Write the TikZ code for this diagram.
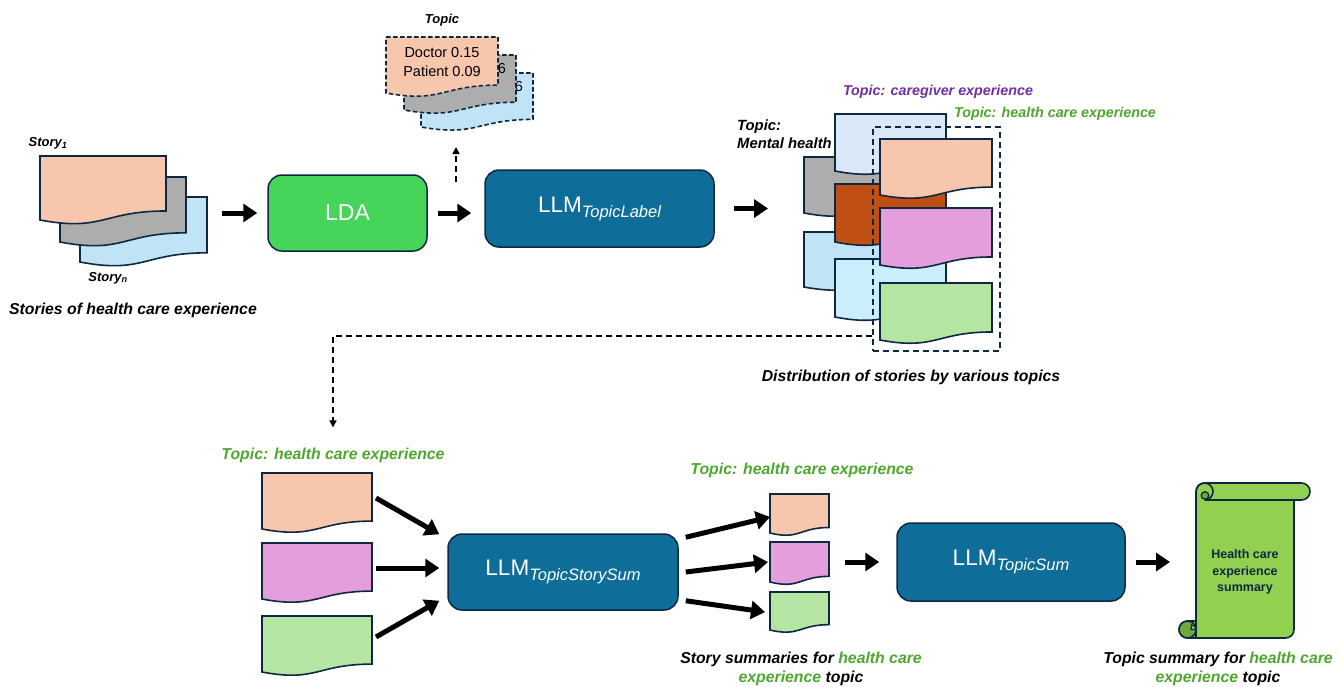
\documentclass[tikz,border=0pt]{standalone}
\usepackage{fontspec}
\setmainfont{Liberation Sans}
\usetikzlibrary{arrows.meta,calc}
\definecolor{navy}{HTML}{0E2841}
\definecolor{peach}{HTML}{F6C6AD}
\definecolor{grayd}{HTML}{ADADAD}
\definecolor{storyblue}{HTML}{C0E4F5}
\definecolor{ldagreen}{HTML}{47D45A}
\definecolor{llmblue}{HTML}{0F6E99}
\definecolor{brownd}{HTML}{C04F15}
\definecolor{pinkd}{HTML}{E59EDD}
\definecolor{docgreen}{HTML}{B4E5A2}
\definecolor{lbA}{HTML}{DAE9F8}
\definecolor{lbB}{HTML}{C0E4F5}
\definecolor{lbC}{HTML}{CAEEFB}
\definecolor{purpled}{HTML}{7030A0}
\definecolor{tgreen}{HTML}{4EA72E}
\definecolor{scrollg}{HTML}{92D050}
\definecolor{scrolldk}{HTML}{6FA83C}
\newcommand\docsh[5]{\draw[#1] (#2,#3) -- ({#2+#4},#3) -- ({#2+#4},{#3+0.859*#5}) .. controls ({#2+0.5*#4},{#3+0.859*#5}) and ({#2+0.5*#4},{#3+1.185*#5}) .. (#2,{#3+#5}) -- cycle;}
\newcommand\llmtxt[1]{{\fontsize{22.5}{26}\selectfont LLM}{\fontsize{16.5}{19}\selectfont\itshape\raisebox{-5pt}{#1}}}
\begin{document}
\begin{tikzpicture}[x=1pt,y=-1pt,
  doc/.style={draw=navy,line width=1.6pt},
  ddoc/.style={draw=navy,line width=1.6pt,dash pattern=on 4.5pt off 2.5pt},
  blk/.style={line width=5pt,-{Triangle[length=14pt,width=18pt]}},
  dsh/.style={line width=1.5pt,dash pattern=on 6pt off 4pt,-{Triangle[length=7pt,width=7pt]}},
  box/.style={draw=navy,line width=1.5pt,rounded corners=14pt,text=white,inner sep=0pt},
  captxt/.style={font=\fontsize{15.8}{18.5}\selectfont\bfseries\itshape,inner sep=0pt},
  lbl/.style={font=\fontsize{13}{17}\selectfont\bfseries\itshape,inner sep=0pt},
  tlbl/.style={font=\fontsize{14.3}{17}\selectfont\bfseries\itshape,inner sep=0pt},
  reg/.style={font=\fontsize{14.5}{19}\selectfont,inner sep=0pt}]
\useasboundingbox[fill=white] (0,0) rectangle (1341,686);

% ---- stories stack
\docsh{doc,fill=storyblue}{80}{197}{127}{65}
\docsh{doc,fill=grayd}{60}{177}{126}{65}
\docsh{doc,fill=peach}{40}{156}{126}{64}
\coordinate (stkR) at (207,213);
\node[lbl] (s1) at (48,143) {Story\textsubscript{1}};
\node[lbl] (sn) at (108,278) {Story\textsubscript{n}};
\node[captxt] (cap1) at (133,310) {Stories of health care experience};

% ---- boxes top
\node[box,fill=ldagreen,minimum width=159pt,minimum height=76pt] (LDA) at (347.5,213) {\fontsize{23}{27}\selectfont LDA};
\node[box,fill=llmblue,minimum width=229pt,minimum height=77pt] (LLM1) at (599.5,208.5) {\llmtxt{TopicLabel}};

% ---- topic stack
\docsh{ddoc,fill=storyblue}{421}{73}{112}{54}
\node[reg] (b6) at (519,87) {6};
\node[reg] (bd) at (478,106) {...};
\docsh{ddoc,fill=grayd}{404}{55}{112}{55}
\node[reg] (g6) at (502,69) {6};
\node[reg] (gd) at (460,88) {...};
\docsh{ddoc,fill=peach}{386}{37}{112}{56}
\node[reg,align=center] (dp) at (442,62) {Doctor 0.15\\Patient 0.09};
\node[lbl] (topic) at (442,20) {Topic};
\coordinate (tpb) at (456,130);
\coordinate (upS) at (456,182);

% ---- distribution
\docsh{doc,fill=grayd}{804}{157}{111}{56}
\docsh{doc,fill=lbA}{835}{114}{111}{57}
\docsh{doc,fill=lbB}{804}{232}{111}{55}
\docsh{doc,fill=brownd}{835}{184}{111}{58}
\docsh{doc,fill=lbC}{835}{259}{111}{58}
\docsh{doc,fill=peach}{880}{139}{112}{56}
\docsh{doc,fill=pinkd}{880}{208}{112}{57}
\docsh{doc,fill=docgreen}{880}{283}{112}{57}
\node[draw=navy,line width=1.5pt,dash pattern=on 6pt off 4pt,minimum width=127pt,minimum height=224pt,inner sep=0pt] (hcbox) at (936.5,239) {};
\coordinate (distL) at (804,212);
\node[lbl,font=\fontsize{14.8}{17.5}\selectfont\bfseries\itshape,align=left,anchor=west] (mh) at (737,134) {Topic:\\Mental health};
\node[tlbl,text=purpled] (pt) at (938,92) {Topic: caregiver experience};
\node[tlbl,text=tgreen] (gt) at (1055,114) {Topic: health care experience};
\node[captxt] (cap2) at (911,377) {Distribution of stories by various topics};

% ---- top arrows
\draw[blk,shorten <=15pt,shorten >=10pt] (stkR) -- (LDA.west);
\draw[blk,shorten <=10pt,shorten >=13pt] (LDA.east) -- (LDA.east -| LLM1.west);
\draw[blk,shorten <=19pt,shorten >=36pt] (LLM1.east) -- (LLM1.east -| distL);
\draw[dsh,shorten >=17pt] (upS) -- (tpb);

% ---- bottom
\node[captxt,text=tgreen] (btopic) at (333,455) {Topic: health care experience};
\draw[dsh,shorten >=20pt] (hcbox.south west |- 0,336) -| (btopic.north);

\docsh{doc,fill=peach}{262}{473}{110}{56}
\docsh{doc,fill=pinkd}{262}{543}{110}{56}
\docsh{doc,fill=docgreen}{262}{616}{110}{56}
\coordinate (bd1) at (376,498);
\coordinate (bd2) at (376,568);
\coordinate (bd3) at (376,637);

\node[box,fill=llmblue,minimum width=230pt,minimum height=76pt] (TSS) at (563,572) {\llmtxt{TopicStorySum}};
\draw[blk] (bd1) -- ($(TSS.north west)+(-8,1)$);
\draw[blk] (bd2) -- ($(TSS.west)+(-8,-4)$);
\draw[blk] (bd3) -- ($(TSS.south west)+(-8,-10)$);

\node[captxt,text=tgreen] (mtopic) at (802,470) {Topic: health care experience};
\docsh{doc,fill=peach}{770}{494}{59}{39}
\docsh{doc,fill=pinkd}{770}{542}{59}{40}
\docsh{doc,fill=docgreen}{770}{592}{59}{38}
\coordinate (sd1) at (770,517);
\coordinate (sd2) at (768,562);
\coordinate (sd3) at (765,612);
\coordinate (sdR) at (829,562);
\draw[blk] ($(TSS.north east)+(7,4)$) -- (sd1);
\draw[blk] ($(TSS.east)+(7,0)$) -- (sd2);
\draw[blk] ($(TSS.south east)+(7,-10)$) -- (sd3);

\node[box,fill=llmblue,minimum width=228pt,minimum height=78pt] (TS) at (1011,562) {\llmtxt{TopicSum}};
\draw[blk,shorten <=16pt,shorten >=17pt] (sdR) -- (TS.west);

% ---- scroll
\filldraw[draw=navy,line width=1.6pt,fill=scrollg] (1204.5,483) -- (1301.5,483) arc[start angle=-90,end angle=90,radius=8.5] -- (1294,500) -- (1294,629.5) arc[start angle=0,end angle=90,radius=8.5] -- (1187.5,638) arc[start angle=90,end angle=270,radius=8.5] -- (1196,621) -- (1196,491.5) arc[start angle=180,end angle=270,radius=8.5] -- cycle;
\draw[navy,line width=1.6pt] (1204.5,500) -- (1294,500);
\draw[navy,line width=1.6pt] (1204.5,500) arc[start angle=90,end angle=-180,radius=8.5];
\filldraw[draw=navy,line width=1.3pt,fill=scrolldk] (1205,495.5) circle (3.8);
\filldraw[draw=navy,line width=1.6pt,fill=scrolldk] (1187.5,629.5) circle (8.5);
\filldraw[draw=navy,line width=1.2pt,fill=scrollg] (1191,629.5) -- (1196,629.5) arc[start angle=0,end angle=-90,radius=4.5] -- cycle;
\draw[navy,line width=1.6pt] (1196,621) -- (1196,638);
\node[font=\fontsize{12.5}{16.5}\selectfont\bfseries,text=navy,align=center,inner sep=0pt] (scrolltxt) at (1245,572) {Health care\\experience\\summary};
\coordinate (scrL) at (1179,562);
\draw[blk,shorten <=10pt,shorten >=9pt] (TS.east) -- (scrL);

% ---- captions
\node[captxt,align=center] (cap3) at (801,669) {Story summaries for \textcolor{tgreen}{health care}\\\textcolor{tgreen}{experience} topic};
\node[captxt,align=center] (cap4) at (1218,669) {Topic summary for \textcolor{tgreen}{health care}\\\textcolor{tgreen}{experience} topic};
\end{tikzpicture}
\end{document}
